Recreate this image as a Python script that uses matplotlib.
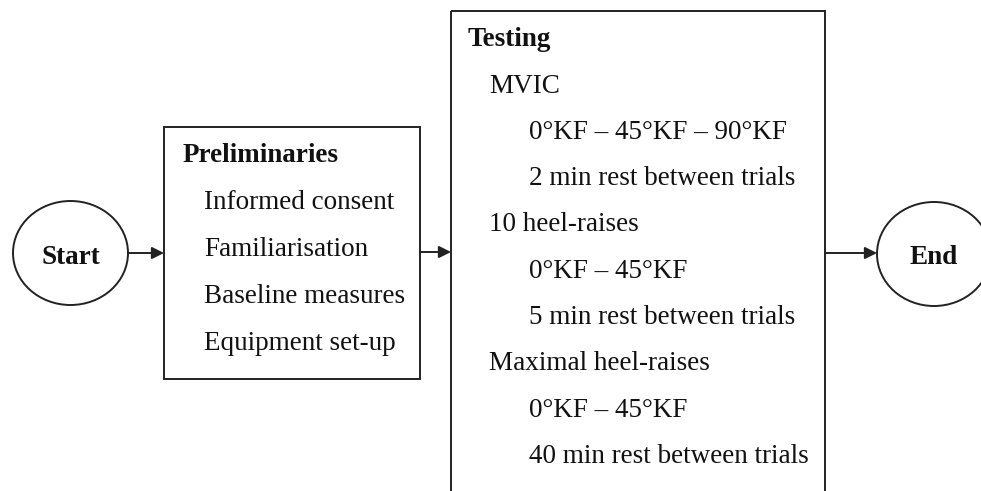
import matplotlib
matplotlib.use("Agg")
import matplotlib.pyplot as plt
from matplotlib.patches import Ellipse, Rectangle

# ---- content ----
start_label = "Start"
end_label = "End"
prelim_title = "Preliminaries"
prelim_items = ["Informed consent", "Familiarisation", "Baseline measures", "Equipment set-up"]
testing_title = "Testing"
testing_items = ["MVIC", "0°KF – 45°KF – 90°KF", "2 min rest between trials",
                 "10 heel-raises", "0°KF – 45°KF", "5 min rest between trials",
                 "Maximal heel-raises", "0°KF – 45°KF", "40 min rest between trials"]
testing_levels = [1, 2, 2, 1, 2, 2, 1, 2, 2]

W, H = 981, 491
fig = plt.figure(figsize=(W / 100, H / 100), dpi=100)
ax = fig.add_axes([0, 0, 1, 1])
ax.set_xlim(0, W)
ax.set_ylim(H, 0)
ax.axis("off")

ec = "#222222"
lw = 1.4
font = "Liberation Serif"
fs = 19.5

# shapes
ax.add_patch(Ellipse((70.5, 253), 115, 104, fill=False, ec=ec, lw=lw))
ax.add_patch(Ellipse((934, 254), 114, 104, fill=False, ec=ec, lw=lw))
ax.add_patch(Rectangle((164, 127), 256, 252, fill=False, ec=ec, lw=lw))
ax.add_patch(Rectangle((451, 11), 374, 500, fill=False, ec=ec, lw=lw))

# arrows
def arrow(x0, x1, y):
    ax.annotate("", xy=(x1, y), xytext=(x0, y),
                arrowprops=dict(arrowstyle="-|>", color=ec, lw=lw,
                                mutation_scale=18, shrinkA=0, shrinkB=0))

arrow(128, 164, 253)
arrow(420, 451, 252)
arrow(825, 877, 253)

# texts
ax.text(71, 264, start_label, fontfamily=font, fontweight="bold", fontsize=fs,
        ha="center", va="baseline", color="#111111")
ax.text(934, 264, end_label, fontfamily=font, fontweight="bold", fontsize=fs,
        ha="center", va="baseline", color="#111111")

ax.text(183, 162, prelim_title, fontfamily=font, fontweight="bold", fontsize=fs,
        ha="left", va="baseline", color="#111111")
for i, t in enumerate(prelim_items):
    ax.text(204, 209 + 47 * i, t, fontfamily=font, fontsize=fs,
            ha="left", va="baseline", color="#111111")

ax.text(468, 46, testing_title, fontfamily=font, fontweight="bold", fontsize=fs,
        ha="left", va="baseline", color="#111111")
indent = {1: 489, 2: 529}
for i, (t, lv) in enumerate(zip(testing_items, testing_levels)):
    ax.text(indent[lv], 92.5 + 46.3 * i, t, fontfamily=font, fontsize=fs,
            ha="left", va="baseline", color="#111111")

fig.savefig("out.png", dpi=100)
